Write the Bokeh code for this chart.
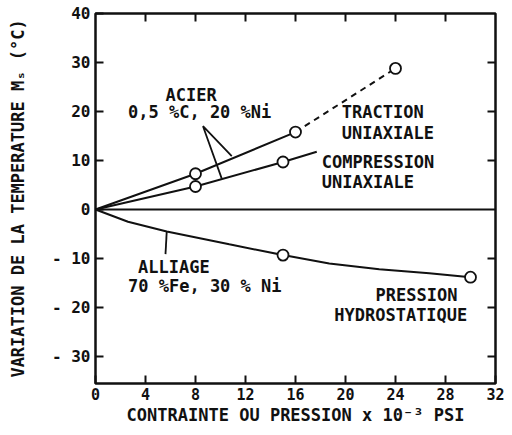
from bokeh.plotting import figure
from bokeh.models import LinearAxis, FixedTicker, Span, Label, Range1d, CustomLabelingPolicy
from bokeh.embed import file_html
from bokeh.resources import INLINE

# ---- data ----
traction_x = [0, 8, 16]
traction_y = [0, 7.3, 15.8]
traction_dash_x = [16, 24]
traction_dash_y = [15.8, 28.8]
traction_pts_x = [8, 16, 24]
traction_pts_y = [7.3, 15.8, 28.8]

compression_x = [0, 8, 15, 17.7]
compression_y = [0, 4.7, 9.7, 11.8]
compression_pts_x = [8, 15]
compression_pts_y = [4.7, 9.7]

alliage_x = [0, 2.6, 5.7, 10.7, 15, 18.7, 22.7, 26.7, 30]
alliage_y = [0, -2.5, -4.5, -7.1, -9.3, -11.0, -12.2, -13.0, -13.8]
alliage_pts_x = [15, 30]
alliage_pts_y = [-9.3, -13.8]

x_ticks = [0, 4, 8, 12, 16, 20, 24, 28, 32]
y_ticks = [40, 30, 20, 10, 0, -10, -20, -30]
y_tick_labels = ["40", "30", "20", "10", "0", "- 10", "- 20", "- 30"]

x_title = "CONTRAINTE OU PRESSION x 10\u207b\u00b3 PSI"
y_title = "VARIATION DE LA TEMPERATURE M\u209b (\u00b0C)"

notes = ["ACIER", "0,5 %C, 20 %Ni", "TRACTION", "UNIAXIALE", "COMPRESSION",
         "UNIAXIALE", "ALLIAGE", "70 %Fe, 30 % Ni", "PRESSION", "HYDROSTATIQUE"]
note_x = [5.6, 2.6, 19.7, 19.7, 18.1, 18.1, 3.4, 2.6, 22.4, 19.1]
note_y = [23.3, 19.9, 19.9, 15.6, 9.7, 5.7, -11.8, -15.6, -17.4, -21.5]

FONT = "DejaVu Sans Mono"
INK = "#111111"

p = figure(width=504, height=427, output_backend="svg", toolbar_location=None,
           x_range=Range1d(0, 32), y_range=Range1d(-35.5, 40),
           min_border_left=95, min_border_right=9, min_border_top=13, min_border_bottom=44)
p.background_fill_color = "white"
p.border_fill_color = "white"
p.grid.visible = False
p.outline_line_color = INK
p.outline_line_width = 2.5

# bottom / left axes
p.xaxis.ticker = FixedTicker(ticks=x_ticks)
p.yaxis.ticker = FixedTicker(ticks=y_ticks)
p.yaxis.major_label_overrides = {t: l for t, l in zip(y_ticks, y_tick_labels)}
for ax in (p.xaxis[0], p.yaxis[0]):
    ax.axis_line_color = None
    ax.major_tick_in = 8
    ax.major_tick_out = 0
    ax.major_tick_line_width = 2
    ax.major_tick_line_color = INK
    ax.minor_tick_line_color = None
    ax.major_label_text_font = FONT
    ax.major_label_text_font_style = "bold"
    ax.major_label_text_font_size = "16px"
    ax.major_label_text_color = INK
    ax.axis_label_text_font = FONT
    ax.axis_label_text_font_style = "bold"
    ax.axis_label_text_color = INK
    ax.axis_label_text_font_size = "17px"
p.xaxis.axis_label = x_title
p.yaxis.axis_label = y_title
p.xaxis.major_label_text_font_size = "15px"
p.xaxis.major_label_standoff = 4
p.xaxis.axis_label_standoff = 2
p.yaxis.major_label_standoff = 5
p.yaxis.axis_label_standoff = 21

# top / right axes: inward ticks only, no labels
top = LinearAxis(ticker=FixedTicker(ticks=x_ticks[1:-1]),
                 major_label_policy=CustomLabelingPolicy(code="return new Set()"))
right = LinearAxis(ticker=FixedTicker(ticks=[30, 20, 10, -10, -20, -30]),
                   major_label_policy=CustomLabelingPolicy(code="return new Set()"))
for ax in (top, right):
    ax.axis_line_color = None
    ax.major_tick_in = 8
    ax.major_tick_out = 0
    ax.major_tick_line_width = 2
    ax.major_tick_line_color = INK
    ax.minor_tick_line_color = None
    ax.major_label_standoff = 0
    ax.major_label_text_font_size = "1px"
p.add_layout(top, "above")
p.add_layout(right, "right")

# zero line
p.add_layout(Span(location=0, dimension="width", line_color=INK, line_width=2))

# curves
p.line(traction_x, traction_y, line_color=INK, line_width=2)
p.line(traction_dash_x, traction_dash_y, line_color=INK, line_width=2, line_dash="6 5")
p.line(compression_x, compression_y, line_color=INK, line_width=2)
p.line(alliage_x, alliage_y, line_color=INK, line_width=2)

# leader lines
p.line([10.9, 8.6, 10.1], [10.9, 17.0, 6.3], line_color=INK, line_width=1.8)
p.line([5.7, 5.6], [-4.4, -9.1], line_color=INK, line_width=1.8)

# open markers
for xs, ys in ((traction_pts_x, traction_pts_y), (compression_pts_x, compression_pts_y),
               (alliage_pts_x, alliage_pts_y)):
    p.scatter(xs, ys, size=11, marker="circle", fill_color="white",
              line_color=INK, line_width=1.8)

# annotations
for t, x, y in zip(notes, note_x, note_y):
    p.add_layout(Label(x=x, y=y, text=t, text_font=FONT, text_font_style="bold",
                       text_font_size="17px", text_color=INK,
                       text_align="left", text_baseline="middle"))

open("out.html", "w").write(file_html(p, INLINE))
